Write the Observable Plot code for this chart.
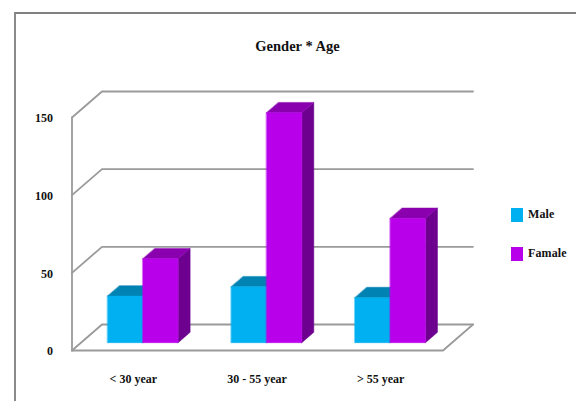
<!DOCTYPE html>
<html>
<head>
<meta charset="utf-8">
<script src="https://cdn.jsdelivr.net/npm/d3@7"></script>
<script src="https://cdn.jsdelivr.net/npm/@observablehq/plot@0.6"></script>
<style>
  html, body { margin: 0; padding: 0; background: #fff; overflow: hidden; }
  #chart { position: relative; width: 576px; height: 401px; font-family: "Liberation Serif", serif; }
  #frame { position: absolute; left: 14px; top: 12px; right: 0; bottom: 0; border-left: 2px solid #8a8a8a; border-top: 2px solid #808080; }
  #chart svg { position: absolute; left: 0; top: 0; background: transparent; }
  .legend-row { position: absolute; left: 511px; display: flex; align-items: center; font: bold 12px "Liberation Serif", serif; color: #111; letter-spacing: .1px; }
  .legend-row i { display: block; width: 12px; height: 14px; margin-right: 5px; }
</style>
</head>
<body>
<div id="chart"><div id="frame"></div></div>
<script>
const categories = ["< 30 year", "30 - 55 year", "> 55 year"];
const male = [30, 36, 29];
const female = [54, 148, 80];
const yTicks = [0, 50, 100, 150];
const seriesNames = ["Male", "Famale"];

const shades = {
  Male: {front: "#00b0f0", top: "#0083b2", side: "#005f82"},
  Famale: {front: "#b900ea", top: "#8a00ae", side: "#6d008f"}
};

// Oblique projection: depth 0 is the front edge of the floor, depth 1 the back wall.
const depthX = 30 / 123.67;  // category slots
const depthY = 26 / 1.553;   // value units
const project = (cat, value, depth) => ({x: cat + depth * depthX, y: value + depth * depthY});

const barWidth = 0.2855;
const frontDepth = 0.3;
const backDepth = 0.7;

// One closed polygon per visible face of each bar.
const faces = [];
const addFace = (id, color, corners) =>
  corners.forEach(([c, v, d]) => faces.push({id, color, ...project(c, v, d)}));

categories.forEach((_, i) => {
  [male[i], female[i]].forEach((value, s) => {
    const name = seriesNames[s];
    const x0 = i + 0.5 - barWidth + s * barWidth;
    const x1 = x0 + barWidth;
    const key = `${i}-${s}`;
    addFace(`${key}-side`, shades[name].side, [[x1, 0, frontDepth], [x1, 0, backDepth], [x1, value, backDepth], [x1, value, frontDepth]]);
    addFace(`${key}-top`, shades[name].top, [[x0, value, frontDepth], [x1, value, frontDepth], [x1, value, backDepth], [x0, value, backDepth]]);
    addFace(`${key}-front`, shades[name].front, [[x0, 0, frontDepth], [x1, 0, frontDepth], [x1, value, frontDepth], [x0, value, frontDepth]]);
  });
});

// Wall gridlines run from the left wall's front edge back, then across the back wall.
const walls = yTicks.flatMap(v => [
  {v, ...project(0, v, 0)},
  {v, ...project(0, v, 1)},
  {v, ...project(3, v, 1)}
]);
const floorEdge = [project(0, 0, 0), project(3, 0, 0), project(3, 0, 1)];
const wallEdge = [project(0, 0, 0), project(0, 150, 0)];

const grid = "#9a9a9a";
const plot = Plot.plot({
  width: 576,
  height: 401,
  marginLeft: 71.5,
  marginRight: 133.5,
  marginTop: 117,
  marginBottom: 51,
  style: {fontFamily: '"Liberation Serif", serif', fontWeight: "bold", fontSize: "12px", color: "#111", background: "transparent", overflow: "visible"},
  x: {domain: [0, 3]},
  y: {domain: [0, 150]},
  marks: [
    Plot.line(walls, {x: "x", y: "y", z: "v", stroke: grid, strokeWidth: 1.8}),
    Plot.line(floorEdge, {x: "x", y: "y", stroke: grid, strokeWidth: 1.8}),
    Plot.line(wallEdge, {x: "x", y: "y", stroke: grid, strokeWidth: 1.8}),
    Plot.line(faces, {x: "x", y: "y", z: "id", fill: "color", stroke: "color", strokeWidth: 0.5, curve: "linear-closed"}),
    Plot.axisY({ticks: yTicks, tickSize: 0, tickPadding: 19, label: null, anchor: "left", dy: 1, tickFormat: d => d}),
    Plot.axisX({ticks: [0.5, 1.5, 2.5], tickSize: 0, tickPadding: 24, label: null, anchor: "bottom", dx: -0.5, tickFormat: d => categories[Math.floor(d)]}),
    Plot.text(["Gender * Age"], {frameAnchor: "top", dx: 40, dy: -77, fontSize: 14.5, fontWeight: "bold", fill: "#111"})
  ]
});
const chart = document.getElementById("chart");
chart.appendChild(plot);

// Legend beside the plot
seriesNames.forEach((name, i) => {
  const row = document.createElement("div");
  row.className = "legend-row";
  row.style.top = `${207 + i * 39}px`;
  const swatch = document.createElement("i");
  swatch.style.background = shades[name].front;
  row.append(swatch, name);
  chart.appendChild(row);
});
</script>
</body>
</html>
